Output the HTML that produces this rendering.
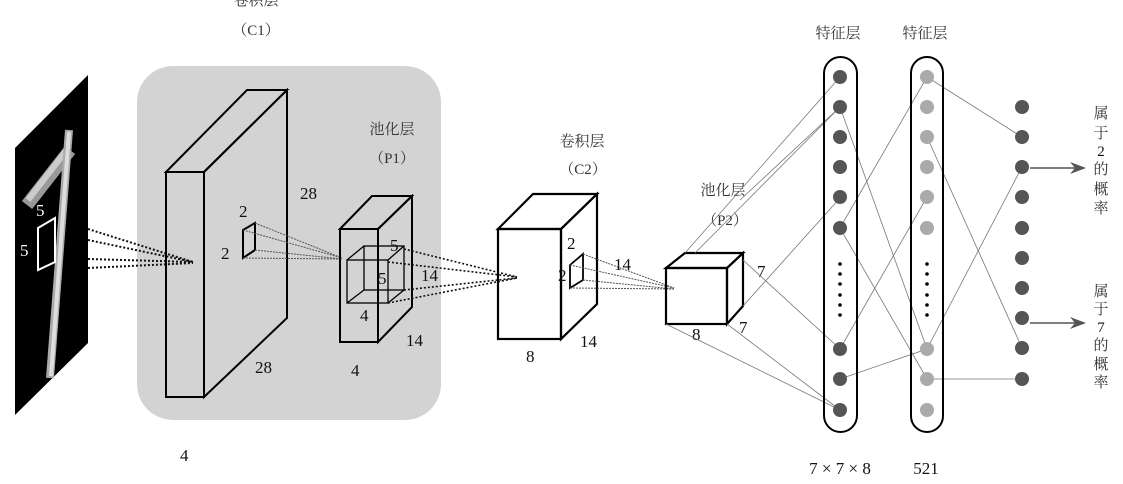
<!DOCTYPE html>
<html><head><meta charset="utf-8"><style>
html,body{margin:0;padding:0;background:#fff;}
svg{display:block;}
text{font-family:"Liberation Serif","Noto Serif CJK SC",serif;fill:#111;}
.cjk{font-family:"Liberation Serif","Noto Serif CJK SC","Noto Sans CJK SC",serif;fill:#333;}
</style></head><body>
<svg width="1123" height="484" viewBox="0 0 1123 484" xmlns="http://www.w3.org/2000/svg">
<rect x="137" y="66" width="304" height="354" rx="36" fill="#d3d3d3"/>
<!-- input image -->
<polygon points="15,148 88,75 88,343 15,415" fill="#000"/>
<polyline points="27,205 70,150" fill="none" stroke="#999" stroke-width="13"/>
<polyline points="28,200 69,147" fill="none" stroke="#ccc" stroke-width="6"/>
<polyline points="69,130 50,378" fill="none" stroke="#aaa" stroke-width="8"/>
<polyline points="69,132 51,376" fill="none" stroke="#ddd" stroke-width="4"/>
<polygon points="38,228 55,218 55,262 38,270" fill="none" stroke="#fff" stroke-width="2"/>
<text x="36" y="216" font-size="17" style="fill:#fff">5</text>
<text x="20" y="256" font-size="17" style="fill:#fff">5</text>
<!-- dotted from input -->
<g stroke="#111" stroke-width="2" stroke-dasharray="2,2" fill="none">
<line x1="88" y1="229" x2="193" y2="262"/>
<line x1="88" y1="240" x2="193" y2="262"/>
<line x1="88" y1="259" x2="193" y2="262"/>
<line x1="88" y1="268" x2="193" y2="263"/>
</g>
<!-- C1 -->
<g fill="none" stroke="#000" stroke-width="2">
<polygon points="166,172 247,90 287,90 204,172"/>
<polygon points="204,172 287,90 287,318 204,397"/>
<rect x="166" y="172" width="38" height="225"/>
<polygon points="243,230 255,223 255,250 243,258"/>
</g>
<g stroke="#555" stroke-width="1" stroke-dasharray="2,1" fill="none">
<line x1="255" y1="223" x2="342" y2="258"/>
<line x1="243" y1="230" x2="342" y2="258"/>
<line x1="255" y1="250" x2="342" y2="259"/>
<line x1="243" y1="258" x2="342" y2="259"/>
</g>
<text x="239" y="217" font-size="17">2</text>
<text x="221" y="259" font-size="17">2</text>
<text x="300" y="199" font-size="17">28</text>
<text x="255" y="373" font-size="17">28</text>
<text x="180" y="461" font-size="17">4</text>
<text x="256" y="5" font-size="15" text-anchor="middle" class="cjk">卷积层</text>
<text x="256" y="35" font-size="15" text-anchor="middle" class="cjk">（C1）</text>
<!-- P1 -->
<g fill="none" stroke="#000" stroke-width="2">
<polygon points="340,229 372,196 412,196 378,229"/>
<polygon points="378,229 412,196 412,307 378,342"/>
<rect x="340" y="229" width="38" height="113"/>
</g>
<g fill="none" stroke="#000" stroke-width="1.3">
<rect x="347" y="260" width="41" height="43"/>
<rect x="364" y="246" width="40" height="44"/>
<line x1="347" y1="260" x2="364" y2="246"/><line x1="388" y1="260" x2="404" y2="246"/>
<line x1="347" y1="303" x2="364" y2="290"/><line x1="388" y1="303" x2="404" y2="290"/>
</g>
<g stroke="#111" stroke-width="1.6" stroke-dasharray="2,2" fill="none">
<line x1="404" y1="249" x2="517" y2="277"/>
<line x1="388" y1="262" x2="517" y2="277"/>
<line x1="404" y1="290" x2="517" y2="278"/>
<line x1="388" y1="303" x2="517" y2="278"/>
</g>
<text x="390" y="251" font-size="17">5</text>
<text x="378" y="284" font-size="17">5</text>
<text x="360" y="321" font-size="17">4</text>
<text x="421" y="281" font-size="17">14</text>
<text x="406" y="346" font-size="17">14</text>
<text x="351" y="376" font-size="17">4</text>
<text x="392" y="134" font-size="15" text-anchor="middle" class="cjk">池化层</text>
<text x="392" y="163" font-size="15" text-anchor="middle" class="cjk">（P1）</text>
<!-- C2 -->
<g fill="none" stroke="#000" stroke-width="2.2">
<polygon points="498,229 533,194 597,194 561,229"/>
<polygon points="561,229 597,194 597,304 561,339"/>
<rect x="498" y="229" width="63" height="110"/>
<polygon points="570,265 583,254 583,280 570,288" stroke-width="1.8"/>
</g>
<g stroke="#555" stroke-width="1" stroke-dasharray="2,1" fill="none">
<line x1="583" y1="254" x2="674" y2="288"/>
<line x1="570" y1="265" x2="674" y2="288"/>
<line x1="583" y1="280" x2="674" y2="289"/>
<line x1="570" y1="288" x2="674" y2="289"/>
</g>
<text x="567" y="249" font-size="17">2</text>
<text x="558" y="281" font-size="17">2</text>
<text x="614" y="270" font-size="17">14</text>
<text x="580" y="347" font-size="17">14</text>
<text x="526" y="362" font-size="17">8</text>
<text x="582" y="146" font-size="15" text-anchor="middle" class="cjk">卷积层</text>
<text x="583" y="174" font-size="15" text-anchor="middle" class="cjk">（C2）</text>
<!-- P2 -->
<g fill="none" stroke="#000" stroke-width="2.2">
<polygon points="666,268 685,253 743,253 727,268"/>
<polygon points="727,268 743,253 743,306 727,324"/>
<rect x="666" y="268" width="61" height="56"/>
</g>
<text x="757" y="277" font-size="17">7</text>
<text x="739" y="333" font-size="17">7</text>
<text x="692" y="340" font-size="17">8</text>
<text x="723" y="195" font-size="15" text-anchor="middle" class="cjk">池化层</text>
<text x="725" y="225" font-size="15" text-anchor="middle" class="cjk">（P2）</text>
<!-- connections -->
<g stroke="#777" stroke-width="0.8" fill="none">
<line x1="685" y1="253" x2="840" y2="77"/>
<line x1="740" y1="200" x2="840" y2="107"/>
<line x1="695" y1="253" x2="840" y2="107"/>
<line x1="743" y1="306" x2="840" y2="198"/>
<line x1="743" y1="260" x2="840" y2="349"/>
<line x1="666" y1="324" x2="840" y2="410"/>
<line x1="727" y1="324" x2="840" y2="410"/>
<line x1="840" y1="107" x2="927" y2="349"/>
<line x1="840" y1="228" x2="927" y2="379"/>
<line x1="840" y1="349" x2="927" y2="197"/>
<line x1="840" y1="379" x2="927" y2="349"/>
<line x1="840" y1="228" x2="927" y2="77"/>
<line x1="927" y1="77" x2="1022" y2="137"/>
<line x1="927" y1="137" x2="1022" y2="348"/>
<line x1="927" y1="349" x2="1022" y2="167"/>
<line x1="927" y1="379" x2="1022" y2="379"/>
</g>
<!-- feature columns -->
<rect x="824" y="57" width="33" height="375" rx="16.5" fill="none" stroke="#000" stroke-width="2"/>
<rect x="911" y="57" width="32" height="375" rx="16" fill="none" stroke="#000" stroke-width="2"/>
<g fill="#555">
<circle cx="840" cy="77" r="7"/><circle cx="840" cy="107" r="7"/><circle cx="840" cy="137" r="7"/>
<circle cx="840" cy="167" r="7"/><circle cx="840" cy="197" r="7"/><circle cx="840" cy="228" r="7"/>
<circle cx="840" cy="349" r="7"/><circle cx="840" cy="379" r="7"/><circle cx="840" cy="410" r="7"/>
</g>
<g fill="#aaa">
<circle cx="927" cy="77" r="7"/><circle cx="927" cy="107" r="7"/><circle cx="927" cy="137" r="7"/>
<circle cx="927" cy="167" r="7"/><circle cx="927" cy="197" r="7"/><circle cx="927" cy="228" r="7"/>
<circle cx="927" cy="349" r="7"/><circle cx="927" cy="379" r="7"/><circle cx="927" cy="410" r="7"/>
</g>
<g fill="#000">
<circle cx="840" cy="264" r="1.8"/><circle cx="840" cy="274" r="1.8"/><circle cx="840" cy="284" r="1.8"/><circle cx="840" cy="295" r="1.8"/><circle cx="840" cy="305" r="1.8"/><circle cx="840" cy="315" r="1.8"/>
<circle cx="927" cy="264" r="1.8"/><circle cx="927" cy="274" r="1.8"/><circle cx="927" cy="284" r="1.8"/><circle cx="927" cy="295" r="1.8"/><circle cx="927" cy="305" r="1.8"/><circle cx="927" cy="315" r="1.8"/>
</g>
<g fill="#555">
<circle cx="1022" cy="107" r="7"/><circle cx="1022" cy="137" r="7"/><circle cx="1022" cy="167" r="7"/>
<circle cx="1022" cy="197" r="7"/><circle cx="1022" cy="228" r="7"/><circle cx="1022" cy="258" r="7"/>
<circle cx="1022" cy="288" r="7"/><circle cx="1022" cy="318" r="7"/><circle cx="1022" cy="348" r="7"/>
<circle cx="1022" cy="379" r="7"/>
</g>
<g stroke="#555" stroke-width="1.5">
<line x1="1030" y1="168" x2="1084" y2="168"/>
<line x1="1030" y1="323" x2="1084" y2="323"/>
</g>
<polygon points="1086,168 1070,162 1075,168 1070,174" fill="#555"/>
<polygon points="1086,323 1070,317 1075,323 1070,329" fill="#555"/>
<g font-size="15" text-anchor="middle" class="cjk">
<text x="1101" y="118" class="cjk">属</text><text x="1101" y="138" class="cjk">于</text><text x="1101" y="156">2</text>
<text x="1101" y="174" class="cjk">的</text><text x="1101" y="194" class="cjk">概</text><text x="1101" y="213" class="cjk">率</text>
<text x="1101" y="296" class="cjk">属</text><text x="1101" y="314" class="cjk">于</text><text x="1101" y="332">7</text>
<text x="1101" y="350" class="cjk">的</text><text x="1101" y="369" class="cjk">概</text><text x="1101" y="387" class="cjk">率</text>
</g>
<text x="838" y="38" font-size="15" text-anchor="middle" class="cjk">特征层</text>
<text x="925" y="38" font-size="15" text-anchor="middle" class="cjk">特征层</text>
<text x="840" y="474" font-size="17" text-anchor="middle">7 × 7 × 8</text>
<text x="926" y="474" font-size="17" text-anchor="middle">521</text>
</svg>
</body></html>
